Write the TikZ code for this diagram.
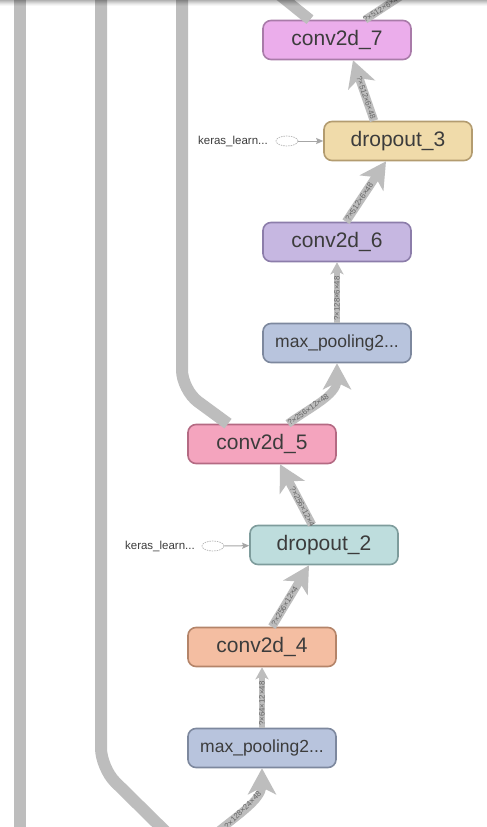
\documentclass[tikz,border=0pt]{standalone}
\usepackage{fontspec}
\setmainfont{Liberation Sans}
\usetikzlibrary{arrows.meta,shapes.geometric}

\definecolor{edgegray}{HTML}{BDBDBD}
\definecolor{txtgray}{HTML}{3C3C3C}
\definecolor{lblgray}{HTML}{646464}
\definecolor{ghostgray}{HTML}{B4B4B4}
\definecolor{inarrowgray}{HTML}{A6A6A6}
% layer colours: fill / border
\definecolor{cviolet}{HTML}{EBADEB}\definecolor{bviolet}{HTML}{A97BA9}
\definecolor{csand}{HTML}{F0DBAA}\definecolor{bsand}{HTML}{B39C70}
\definecolor{clilac}{HTML}{C6B7E1}\definecolor{blilac}{HTML}{8C7DAA}
\definecolor{cpool}{HTML}{B8C4DD}\definecolor{bpool}{HTML}{7D889E}
\definecolor{crose}{HTML}{F4A4BE}\definecolor{brose}{HTML}{B46A83}
\definecolor{cteal}{HTML}{BEDDDD}\definecolor{bteal}{HTML}{7E9C9C}
\definecolor{cpeach}{HTML}{F4BEA2}\definecolor{bpeach}{HTML}{B48469}

\tikzset{
  layer/.style={draw, line width=1.6pt, rounded corners=8pt,
    minimum width=148pt, minimum height=39pt, inner sep=0pt,
    text=txtgray, font=\fontsize{21}{21}\selectfont},
  poolbox/.style={layer, font=\fontsize{17.5}{17.5}\selectfont},
  flow/.style={draw=edgegray, line width=8.5pt,
    -{Stealth[length=26pt,width=28pt,inset=7pt]}},
  thinflow/.style={draw=edgegray, line width=6pt,
    -{Stealth[length=12pt,width=13pt,inset=3pt]}},
  trunk/.style={draw=edgegray, line width=12pt, rounded corners=20pt},
  elabel/.style={sloped, text=lblgray, inner sep=0pt,
    font=\fontsize{7.8}{7.8}\selectfont},
  ghost/.style={ellipse, draw=ghostgray, dashed, dash pattern=on 1.5pt off 1pt,
    line width=0.7pt, minimum width=22pt, minimum height=10pt, inner sep=0pt},
  inputlabel/.style={text=txtgray, inner sep=0pt, anchor=east,
    font=\fontsize{11.5}{11.5}\selectfont},
  inarrow/.style={draw=inarrowgray, line width=1pt,
    -{Stealth[length=7pt,width=6pt,inset=1pt]}},
}

\begin{document}
\begin{tikzpicture}[x=1pt,y=-1pt]
\useasboundingbox (0,0) rectangle (487,827);
\clip (0,0) rectangle (487,827);
\fill[white] (0,0) rectangle (487,827);

% layers
\node[layer, fill=cviolet, draw=bviolet] (c7) at (337,40) {conv2d\_7};
\node[layer, fill=csand, draw=bsand] (d3) at (398,141) {dropout\_3};
\node[layer, fill=clilac, draw=blilac] (c6) at (337,242) {conv2d\_6};
\node[poolbox, fill=cpool, draw=bpool] (mp1) at (337,343) {max\_pooling2...};
\node[layer, fill=crose, draw=brose] (c5) at (262,444) {conv2d\_5};
\node[layer, fill=cteal, draw=bteal] (d2) at (324,545) {dropout\_2};
\node[layer, fill=cpeach, draw=bpeach] (c4) at (262,647) {conv2d\_4};
\node[poolbox, fill=cpool, draw=bpool] (mp2) at (262,748) {max\_pooling2...};

% learning-phase inputs of the dropout layers
\node[inputlabel] (k3) at (268,141) {keras\_learn...};
\node[ghost] (g3) at (287,141) {};
\draw[inarrow] (g3) -- (d3);
\node[inputlabel] (k2) at (195,546) {keras\_learn...};
\node[ghost] (g2) at (213,546) {};
\draw[inarrow] (g2) -- (d2);

% long trunks passing through the view
\coordinate (t1a) at (20,-10);
\coordinate (t1b) at (20,840);
\draw[trunk] (t1a) -- (t1b);
\coordinate (t2a) at (101,-10);
\coordinate (t2b) at (101,768);
\coordinate (t2c) at (174,840);
\draw[trunk] (t2a) -- (t2b) -- (t2c);
\coordinate (t3a) at (182,-10);
\coordinate (t3b) at (182,390);
\draw[trunk] (t3a) -- (t3b) -- ([xshift=-34pt]c5.north);
\coordinate (t4a) at (273,-10);
\draw[draw=edgegray, line width=11pt] (t4a) -- ([xshift=-27pt]c7.north);

% outgoing edge of conv2d_7
\coordinate (o7) at (421,-17);
\draw[draw=edgegray, line width=8pt] ([xshift=28pt]c7.north) -- (o7)
  node[elabel, pos=0.31] {?×512×6×48};

% data flow
\draw[flow] ([xshift=-24pt]d3.north) -- ([xshift=16pt]c7.south)
  node[elabel, pos=0.38] {?×512×6×48};
\draw[flow] ([xshift=9pt]c6.north) -- ([xshift=-12pt]d3.south)
  node[elabel, pos=0.33] {?×512×6×48};
\draw[thinflow] (mp1.north) -- (c6.south)
  node[elabel, pos=0.4] {?×128×6×48};
\draw[flow] ([xshift=26pt]c5.north) .. controls +(22,-16) and +(0,32) .. (mp1.south)
  node[elabel, pos=0.3] {?×256×12×48};
\draw[flow] ([xshift=-12pt]d2.north) -- ([xshift=18pt]c5.south)
  node[elabel, pos=0.3] {?×256×12×4};
\draw[flow] ([xshift=10pt]c4.north) -- ([xshift=-15pt]d2.south)
  node[elabel, pos=0.34] {?×256×12×4};
\draw[thinflow] (mp2.north) -- (c4.south)
  node[elabel, pos=0.4] {?×64×12×48};
\coordinate (in8) at (210,838);
\draw[flow] (in8) .. controls +(26,-22) and +(0,32) .. (mp2.south)
  node[elabel, pos=0.45] {?×128×24×48};

% soft shadow along the top edge
\foreach \i/\o in {0/0.30,1/0.24,2/0.18,3/0.12,4/0.07,5/0.03}{
  \fill[black, opacity=\o] (0,\i) rectangle (487,\i+1);
}
\end{tikzpicture}
\end{document}
